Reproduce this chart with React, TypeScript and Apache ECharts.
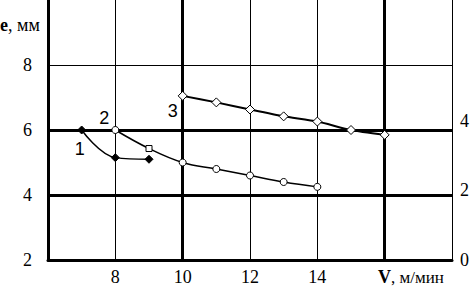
import React, { useEffect, useRef } from "react";
import * as echarts from "echarts";

const s1X = [7, 8, 9];
const s1Y = [6.0, 5.15, 5.1];
const s2X = [8, 9, 10, 11, 12, 13, 14];
const s2Y = [6.0, 5.43, 5.0, 4.8, 4.6, 4.4, 4.25];
const s3X = [10, 11, 12, 13, 14, 15, 16];
const s3Y = [7.05, 6.85, 6.63, 6.42, 6.26, 6.0, 5.85];
const xTickLabels = [8, 10, 12, 14];
const leftTickLabels = [2, 4, 6, 8];
const rightTickLabels = [0, 2, 4];
const thickX = [10, 16];
const thickY = [4, 6];
const seriesNames = ["1", "2", "3"];

const SERIF = "Liberation Serif";
const SANS = "Liberation Sans";

export default function App() {
  const ref = useRef<HTMLDivElement>(null);
  useEffect(() => {
    if (!ref.current) return;
    const chart = echarts.init(ref.current, null, { renderer: "svg" });
    const lbl = (text: string, offset: number[]) => ({
      show: true,
      formatter: text,
      position: "inside",
      offset,
      color: "#000",
      fontFamily: SANS,
      fontSize: 18,
    });
    const d1 = s1X.map((x, i) => {
      const item: any = { value: [x, s1Y[i]] };
      if (i === 0) item.label = lbl(seriesNames[0], [-2, 19]);
      return item;
    });
    const d2 = s2X.map((x, i) => {
      const item: any = { value: [x, s2Y[i]] };
      if (i === 0) item.label = lbl(seriesNames[1], [-11, -12]);
      if (i === 1) { item.symbol = "rect"; item.symbolSize = 6; }
      return item;
    });
    const d3 = s3X.map((x, i) => {
      const item: any = { value: [x, s3Y[i]] };
      if (i === 0) item.label = lbl(seriesNames[2], [-10, 15]);
      return item;
    });
    chart.setOption({
      animation: false,
      backgroundColor: "#fff",
      grid: { left: 48, right: 21, top: 0, bottom: 25, containLabel: false },
      xAxis: {
        type: "value",
        min: 6,
        max: 18,
        interval: 2,
        axisLine: { show: true, onZero: false, lineStyle: { color: "#000", width: 3 } },
        axisTick: { show: false },
        splitLine: { show: true, lineStyle: { color: "#000", width: 1 } },
        axisLabel: {
          margin: 8,
          color: "#000",
          fontFamily: SERIF,
          fontSize: 18,
          formatter: (v: number) => (xTickLabels.includes(v) ? String(v) : ""),
        },
      },
      yAxis: [
        {
          type: "value",
          min: 2,
          max: 10,
          interval: 2,
          axisLine: { show: true, onZero: false, lineStyle: { color: "#000", width: 3 } },
          axisTick: { show: false },
          splitLine: { show: true, showMaxLine: false, lineStyle: { color: "#000", width: 1 } },
          axisLabel: {
            margin: 16,
            color: "#000",
            fontFamily: SERIF,
            fontSize: 18,
            formatter: (v: number) => (leftTickLabels.includes(v) ? String(v) : ""),
          },
        },
        {
          type: "value",
          position: "right",
          min: 0,
          max: 7.457,
          interval: 2,
          axisLine: { show: true, lineStyle: { color: "#000", width: 1 } },
          axisTick: { show: false },
          splitLine: { show: false },
          axisLabel: {
            margin: 8,
            color: "#000",
            fontFamily: SERIF,
            fontSize: 18,
            padding: [0, 0, 8, 0],
            formatter: (v: number) => (rightTickLabels.includes(v) ? String(v) : ""),
          },
        },
      ],
      graphic: [
        {
          type: "text",
          x: 0,
          y: 25,
          style: {
            text: "{b|e}{r|, мм}",
            fill: "#000",
            verticalAlign: "middle",
            rich: {
              b: { fontWeight: "bold", fontFamily: SERIF, fontSize: 18 },
              r: { fontFamily: SERIF, fontSize: 18 },
            },
          },
        },
        {
          type: "text",
          x: 378,
          y: 277,
          style: {
            text: "{b|V}{r|, м/мин}",
            fill: "#000",
            verticalAlign: "middle",
            rich: {
              b: { fontWeight: "bold", fontFamily: SERIF, fontSize: 18 },
              r: { fontFamily: SERIF, fontSize: 17 },
            },
          },
        },
      ],
      series: [
        {
          type: "line",
          data: d1,
          smooth: 0.4,
          symbol: "diamond",
          symbolSize: 8,
          itemStyle: { color: "#000", borderColor: "#000" },
          lineStyle: { color: "#000", width: 1.5 },
          z: 5,
          markLine: {
            silent: true,
            symbol: "none",
            label: { show: false },
            lineStyle: { color: "#000", width: 3, type: "solid" },
            data: [
              ...thickY.map((v) => ({ yAxis: v })),
              ...thickX.map((v) => ({ xAxis: v })),
            ],
          },
        },
        {
          type: "line",
          data: d2,
          smooth: 0.4,
          symbol: "circle",
          symbolSize: 7,
          itemStyle: { color: "#fff", borderColor: "#000", borderWidth: 1 },
          lineStyle: { color: "#000", width: 1.5 },
          z: 5,
        },
        {
          type: "line",
          data: d3,
          smooth: 0.2,
          symbol: "diamond",
          symbolSize: 9,
          itemStyle: { color: "#fff", borderColor: "#000", borderWidth: 1 },
          lineStyle: { color: "#000", width: 2 },
          z: 5,
        },
      ],
    });
    return () => chart.dispose();
  }, []);
  return (
    <div
      ref={ref}
      style={{ position: "fixed", left: 0, top: 0, width: 473, height: 286 }}
    />
  );
}
